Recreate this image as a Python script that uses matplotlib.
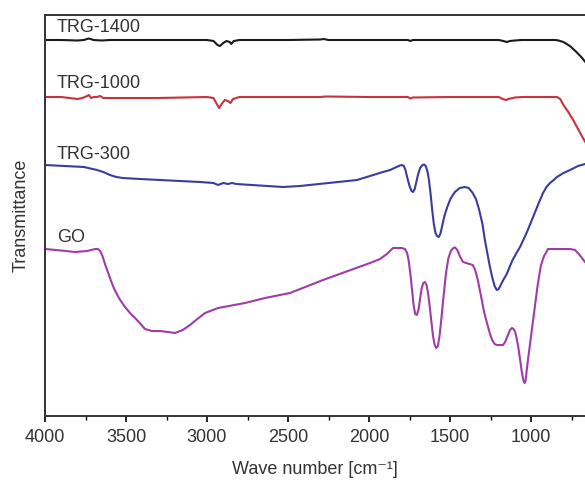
import matplotlib
matplotlib.use('Agg')
import matplotlib.pyplot as plt
from matplotlib.ticker import MultipleLocator

plt.rcParams['font.family'] = ['Liberation Sans', 'DejaVu Sans']

# values (wave number, relative transmittance)
wn_1400 = [4000, 3900, 3800, 3760, 3730, 3700, 3650, 3600, 3500, 3300, 3000, 2960, 2935, 2920,
           2900, 2880, 2860, 2850, 2835, 2800, 2500, 2300, 2280, 2250, 2000, 1760, 1745, 1730,
           1500, 1200, 1170, 1150, 1130, 1100, 1060, 850, 830, 800, 760, 720, 690, 665]
t_1400 = [376, 376, 375.5, 376, 377.5, 376, 375.5, 376, 376, 376, 376, 375, 371, 370,
          373, 375, 374, 372, 375, 376, 376, 376.5, 377, 376, 376, 376, 375, 376,
          376, 376, 375, 374, 375, 375.5, 376, 376, 375.5, 374, 370, 364, 359, 354]

wn_1000 = [4000, 3900, 3850, 3800, 3770, 3740, 3730, 3715, 3700, 3680, 3660, 3640, 3600, 3500,
           3300, 3000, 2960, 2940, 2925, 2910, 2890, 2870, 2855, 2840, 2800, 2300, 2270, 2000,
           1760, 1745, 1730, 1500, 1200, 1175, 1155, 1140, 1100, 1050, 840, 820, 800, 770,
           740, 710, 690, 665]
t_1000 = [319, 319, 318, 317, 318, 320, 321, 318, 319, 319, 320, 318, 318, 318,
          318, 319, 318, 312, 308, 312, 316, 315, 313, 317, 319, 319, 319.5, 319,
          319, 317.5, 318.5, 319, 319, 317, 316, 317, 318.5, 319, 319, 317, 311, 304,
          296, 287, 281, 274]

wn_300 = [4000, 3760, 3679, 3640, 3599, 3560, 3519, 3414, 3043, 2960, 2932, 2900, 2870, 2846,
          2820, 2531, 2426, 2250, 2074, 1914, 1870, 1830, 1810, 1796, 1785, 1775, 1765, 1750,
          1738, 1728, 1718, 1708, 1698, 1685, 1670, 1660, 1650, 1640, 1630, 1620, 1610, 1600,
          1590, 1580, 1570, 1560, 1550, 1535, 1515, 1495, 1470, 1440, 1410, 1385, 1360, 1340,
          1320, 1300, 1285, 1270, 1255, 1240, 1225, 1212, 1200, 1190, 1175, 1150, 1117, 1090,
          1068, 1045, 1025, 1000, 975, 950, 926, 905, 883, 860, 840, 800, 759, 710, 667]
t_300 = [251, 249, 246, 244, 241, 239, 238, 237, 234, 233, 231, 233, 232, 233,
         232, 229, 230, 233, 236, 244, 246, 249, 250.5, 251, 250, 246, 239, 230,
         225, 224, 227, 234, 241, 248, 251, 251.5, 250, 245, 236, 222, 206, 192,
         183, 180, 179, 182, 189, 200, 210, 218, 224, 228, 229, 228, 223, 217,
         206, 192, 176, 163, 150, 139, 130, 126, 127, 130, 135, 142, 155, 163,
         169, 177, 184, 194, 204, 214, 223, 229, 233, 236, 239, 243, 246, 250, 252]

wn_go = [4000, 3900, 3815, 3740, 3690, 3673, 3660, 3645, 3630, 3610, 3590, 3570, 3540, 3506,
         3470, 3444, 3410, 3383, 3340, 3290, 3240, 3198, 3150, 3105, 3060, 3012, 2932, 2765,
         2642, 2488, 2284, 1994, 1932, 1890, 1852, 1800, 1778, 1765, 1755, 1745, 1735, 1725,
         1715, 1705, 1695, 1685, 1675, 1665, 1655, 1645, 1635, 1625, 1615, 1605, 1595, 1585,
         1575, 1565, 1555, 1540, 1525, 1510, 1495, 1480, 1469, 1455, 1440, 1420, 1400, 1380,
         1360, 1345, 1330, 1310, 1290, 1272, 1255, 1240, 1225, 1210, 1190, 1173, 1160, 1145,
         1130, 1118, 1108, 1098, 1088, 1078, 1068, 1058, 1048, 1040, 1034, 1028, 1020, 1000,
         980, 960, 940, 920, 905, 895, 880, 860, 760, 728, 700, 667]
t_go = [167, 165.5, 164, 165, 167, 167, 165, 160, 152, 143, 134, 126, 117, 109,
        102, 98, 92, 87, 85, 85, 84, 83, 86, 91, 97, 103, 108, 113,
        118, 123, 136, 153, 157, 162, 168, 168, 167, 163, 155, 142, 127, 111,
        102, 101, 106, 117, 128, 133, 134, 131, 122, 109, 94, 80, 71, 68,
        70, 80, 95, 120, 143, 158, 165, 168, 168.5, 166, 160, 154, 153, 152,
        151, 146, 137, 121, 104, 93, 83, 76, 72, 71, 71, 71, 74, 80,
        86, 88, 87, 84, 77, 68, 57, 45, 36, 33, 35, 44, 55, 80,
        105, 130, 150, 160, 164, 167, 167, 167, 167, 166, 161, 154]

labels = ['TRG-1400', 'TRG-1000', 'TRG-300', 'GO']
label_y = [388, 332, 261, 178]
colors = ['#1a1a1a', '#c8323a', '#3a3c9e', '#a03ca8']

fig = plt.figure(figsize=(5.85, 4.82), dpi=100)
ax = fig.add_axes([45 / 585, 66 / 482, 540 / 585, 401 / 482])

series = [(wn_1400, t_1400), (wn_1000, t_1000), (wn_300, t_300), (wn_go, t_go)]
for (x, y), c in zip(series, colors):
    ax.plot(x, y, color=c, lw=1.5, solid_joinstyle='round')

for name, yy in zip(labels, label_y):
    ax.text(3928, yy, name, fontsize=13, color='#333333', va='center', ha='left')

ax.set_xlim(4000, 667)
ax.set_ylim(0, 401)
ax.xaxis.set_major_locator(MultipleLocator(500))
ax.xaxis.set_minor_locator(MultipleLocator(250))
ax.set_yticks([])
ax.tick_params(axis='x', which='major', direction='out', length=4, width=1.2,
               labelsize=13, labelcolor='#333333', pad=5)
ax.tick_params(axis='x', which='minor', direction='out', length=3, width=1)
ax.spines['right'].set_visible(False)
for s in ['left', 'top', 'bottom']:
    ax.spines[s].set_linewidth(1.4)
    ax.spines[s].set_color('#333333')

ax.set_xlabel('Wave number [cm\u207b\u00b9]', fontsize=13, color='#333333', labelpad=11)
ax.set_ylabel('Transmittance', fontsize=13, color='#333333', labelpad=11)

fig.savefig('out.png', dpi=100)
